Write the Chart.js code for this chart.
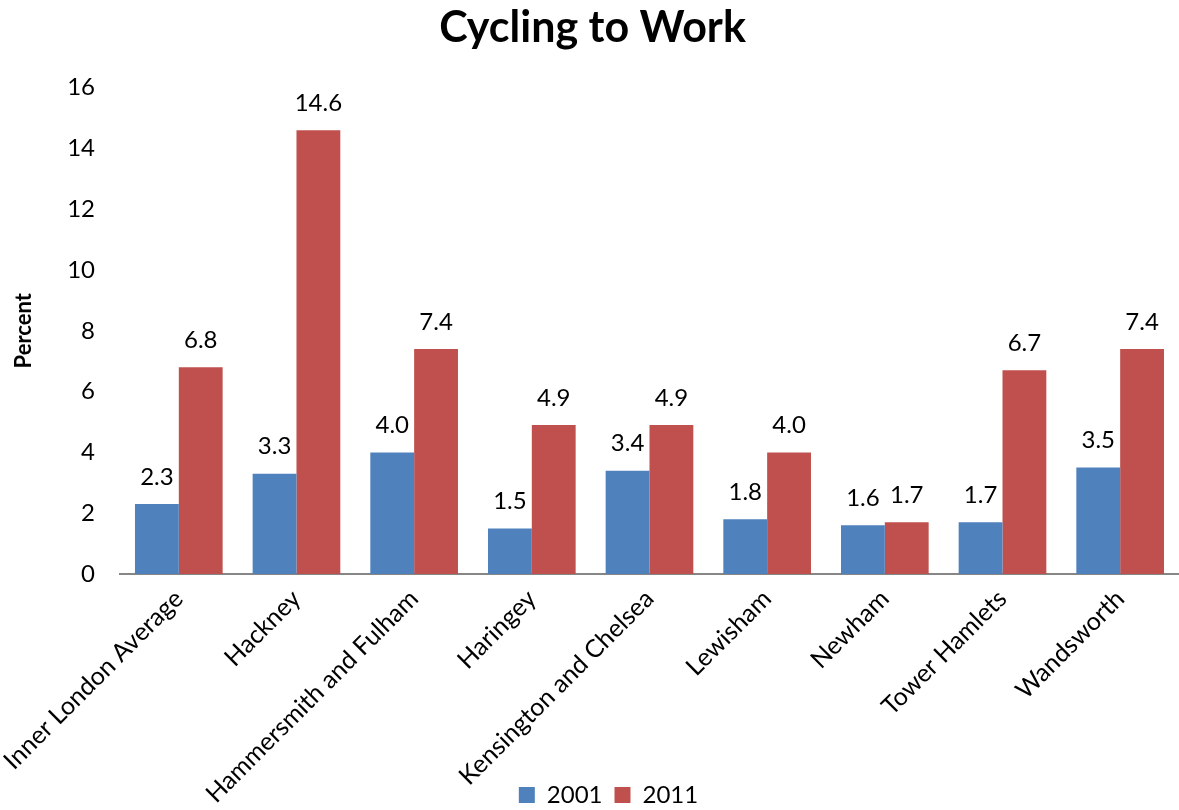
<!DOCTYPE html>
<html>
<head>
<meta charset="utf-8">
<script src="https://cdn.jsdelivr.net/npm/chart.js@4.4.1/dist/chart.umd.min.js"></script>
<style>
  html, body { margin: 0; padding: 0; background: #fff; }
  #wrap { width: 1179px; height: 810px; position: relative; }
</style>
</head>
<body>
<div id="wrap"><canvas id="chart"></canvas></div>
<script>
// Cycling to work, share of commuters (%)
const boroughs = [
    'Inner London Average', 'Hackney', 'Hammersmith and Fulham', 'Haringey',
    'Kensington and Chelsea', 'Lewisham', 'Newham', 'Tower Hamlets', 'Wandsworth'
];
const values2001 = [2.3, 3.3, 4.0, 1.5, 3.4, 1.8, 1.6, 1.7, 3.5];
const values2011 = [6.8, 14.6, 7.4, 4.9, 4.9, 4.0, 1.7, 6.7, 7.4];
const yTicks = [0, 2, 4, 6, 8, 10, 12, 14, 16];

const FONT = 'Lato, "Open Sans", sans-serif';

// draws value labels above each bar
const barLabels = {
    id: 'barLabels',
    afterDatasetsDraw(chart) {
        const ctx = chart.ctx;
        ctx.save();
        ctx.font = '24px ' + FONT;
        ctx.fillStyle = '#000';
        ctx.textAlign = 'center';
        ctx.textBaseline = 'middle';
        chart.data.datasets.forEach((ds, i) => {
            chart.getDatasetMeta(i).data.forEach((bar, j) => {
                ctx.fillText(ds.data[j].toFixed(1), bar.x, bar.y - 27);
            });
        });
        ctx.restore();
    }
};

// let the slanted category labels run down into the legend strip,
// and nudge the legend to where the original has it
const overlapLayout = {
    id: 'overlapLayout',
    afterLayout(chart) {
        chart.scales.x.bottom = chart.height;
        chart.legend.top += 7;
        chart.legend.bottom += 7;
        chart.legend.left += 16;
        chart.legend.right += 16;
    }
};

new Chart(document.getElementById('chart'), {
    type: 'bar',
    data: {
        labels: boroughs,
        datasets: [
            { label: '2001', data: values2001, backgroundColor: '#4F81BD',
              categoryPercentage: 0.745, barPercentage: 1.0 },
            { label: '2011', data: values2011, backgroundColor: '#C0504D',
              categoryPercentage: 0.745, barPercentage: 1.0 }
        ]
    },
    options: {
        responsive: true,
        maintainAspectRatio: false,
        animation: false,
        layout: { autoPadding: false, padding: { left: 6, right: 0, top: 2, bottom: 0 } },
        plugins: {
            title: {
                display: true,
                text: 'Cycling to Work',
                color: '#000',
                font: { family: FONT, size: 43, weight: 'bold' },
                padding: { top: 0, bottom: 34 }
            },
            legend: {
                position: 'bottom',
                labels: {
                    color: '#000',
                    font: { family: FONT, size: 24 },
                    boxWidth: 16,
                    boxHeight: 16,
                    padding: 12
                }
            },
            tooltip: { enabled: false }
        },
        scales: {
            x: {
                grid: { display: false },
                border: { color: '#868686', width: 2 },
                ticks: {
                    color: '#000',
                    font: { family: FONT, size: 25 },
                    minRotation: 45,
                    maxRotation: 45,
                    padding: 2
                },
                afterFit: (s) => { s.height = 190; }
            },
            y: {
                min: 0,
                max: 16,
                afterBuildTicks: (s) => { s.ticks = yTicks.map(v => ({ value: v })); },
                grid: { display: false, drawTicks: false },
                border: { display: false },
                ticks: {
                    color: '#000',
                    font: { family: FONT, size: 24 },
                    padding: 25
                },
                title: {
                    display: true,
                    text: 'Percent',
                    color: '#000',
                    font: { family: FONT, size: 22, weight: 'bold' },
                    padding: { top: 0, bottom: 5 }
                }
            }
        }
    },
    plugins: [barLabels, overlapLayout]
});
</script>
</body>
</html>
